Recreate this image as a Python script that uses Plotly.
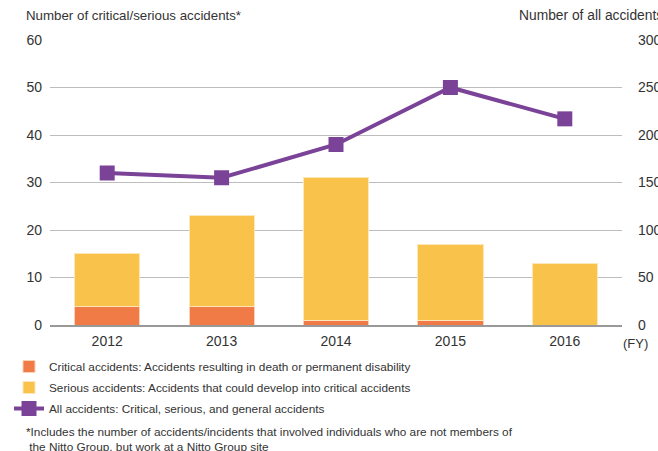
import plotly.graph_objects as go

years = ["2012", "2013", "2014", "2015", "2016"]
critical = [4, 4, 1, 1, 0]
serious = [11, 19, 30, 16, 13]
all_accidents = [160, 155, 190, 250, 217]
left_ticks = [0, 10, 20, 30, 40, 50, 60]
right_ticks = [0, 50, 100, 150, 200, 250, 300]

totals = [c + s for c, s in zip(critical, serious)]

FONT = "Liberation Sans, Arial, Helvetica, sans-serif"
TXT = "#333333"

W, H = 658, 451
L, R, T, B = 50, 36, 40, 126
pw, ph = W - L - R, H - T - B


def px(x):
    return (x - L) / pw


def py(y):
    return (H - B - y) / ph


fig = go.Figure()
fig.add_trace(go.Bar(
    x=years, y=critical, name="Critical accidents: Accidents resulting in death or permanent disability",
    marker=dict(color="#F07B46", line=dict(color="#FBD2B5", width=1)),
    width=0.57, yaxis="y", legendgroup="a",
))
fig.add_trace(go.Bar(
    x=years, y=serious, name="Serious accidents: Accidents that could develop into critical accidents",
    marker=dict(color="#F8C24B", line=dict(color="#FDE6B8", width=1)),
    width=0.57, yaxis="y", legendgroup="b",
))
fig.add_trace(go.Scatter(
    x=years, y=all_accidents, name="All accidents: Critical, serious, and general accidents",
    mode="lines+markers", yaxis="y2", legendgroup="c",
    line=dict(color="#7B4397", width=4),
    marker=dict(symbol="square", size=15, color="#7B4397"),
))

for yr, t in zip(years, totals):
    fig.add_annotation(x=yr, y=t, yref="y", text=str(t), showarrow=False,
                       yanchor="bottom", yshift=3, font=dict(size=14, color="#222"))

fig.add_annotation(x=px(24), y=py(16), xref="paper", yref="paper", text="Number of critical/serious accidents*",
                   showarrow=False, xanchor="left", yanchor="middle", font=dict(size=13.3, color=TXT))
fig.add_annotation(x=px(517), y=py(16), xref="paper", yref="paper", text="Number of all accidents",
                   showarrow=False, xanchor="left", yanchor="middle", font=dict(size=13.8, color=TXT))
fig.add_annotation(x=px(621), y=py(343), xref="paper", yref="paper", text="(FY)",
                   showarrow=False, xanchor="left", yanchor="middle", font=dict(size=13, color=TXT))
fig.add_annotation(x=px(24), y=py(423), xref="paper", yref="paper",
                   text="*Includes the number of accidents/incidents that involved individuals who are not members of<br> the Nitto Group, but work at a Nitto Group site",
                   showarrow=False, xanchor="left", yanchor="top", align="left", font=dict(size=11.8, color=TXT))

fig.update_layout(
    width=W, height=H,
    margin=dict(l=L, r=R, t=T, b=B, autoexpand=False),
    paper_bgcolor="white", plot_bgcolor="white",
    barmode="stack", showlegend=True,
    font=dict(family=FONT, size=13, color=TXT),
    xaxis=dict(type="category", showgrid=False, showline=True, linecolor="#999", linewidth=1.5,
               ticks="", tickfont=dict(size=14, color=TXT), fixedrange=True, range=[-0.5, 4.5],
               ticklabelstandoff=2),
    yaxis=dict(range=[0, 60], tickvals=left_ticks, showgrid=True, gridcolor="#BDBDBD", gridwidth=1,
               zeroline=False, showline=False, ticks="", tickfont=dict(size=14, color=TXT),
               ticklabelstandoff=7),
    yaxis2=dict(range=[0, 300], tickvals=right_ticks, overlaying="y", side="right", showgrid=False,
                zeroline=False, showline=False, ticks="", tickfont=dict(size=14, color=TXT),
                ticklabelstandoff=15),
    legend=dict(x=px(9), y=py(352), xanchor="left", yanchor="top", orientation="v",
                font=dict(size=11.8, color=TXT), traceorder="grouped", tracegroupgap=2,
                bgcolor="rgba(0,0,0,0)", itemwidth=30),
)

fig.write_html("out.html", config={"displayModeBar": False},
               post_script="document.body.style.margin='0';document.body.style.overflow='hidden';")
